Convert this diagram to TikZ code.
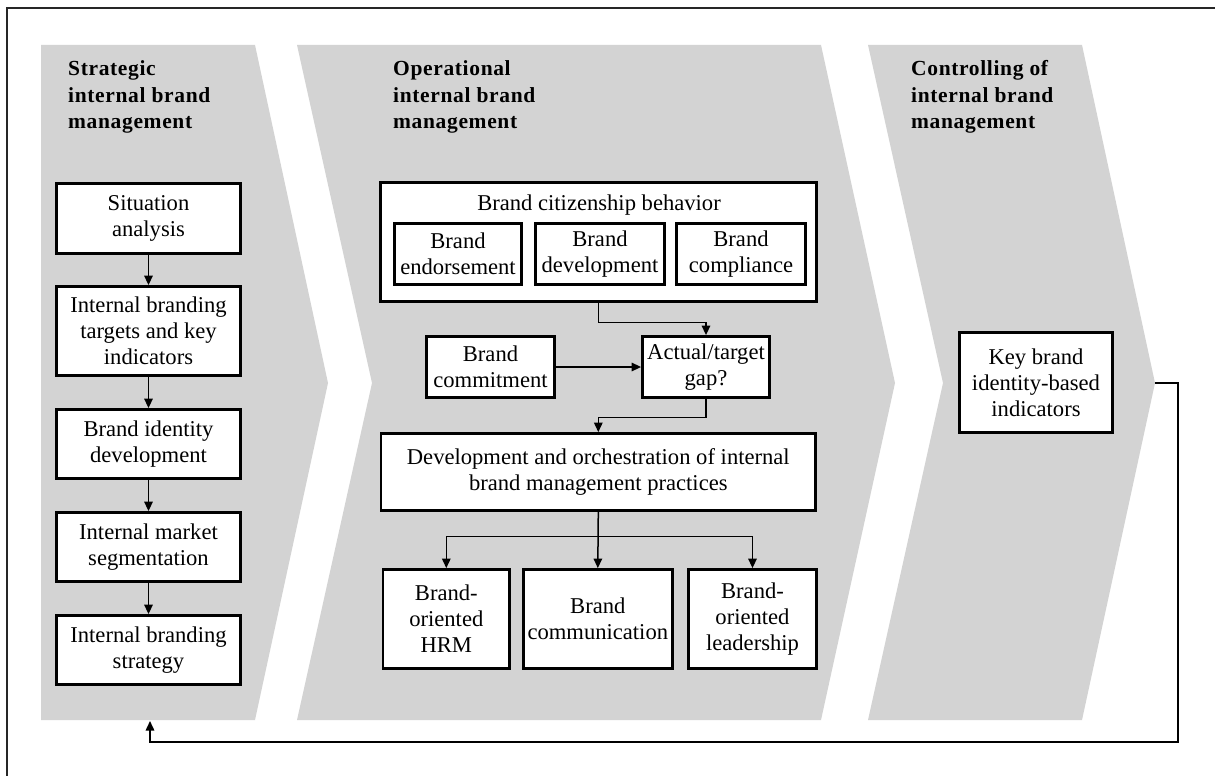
\documentclass[tikz,border=0pt]{standalone}
\usepackage{fontspec}
\setmainfont{Liberation Serif}
\newfontfamily\headfam{Liberation Serif}[LetterSpace=3]
\usetikzlibrary{arrows.meta}
\definecolor{panelgray}{RGB}{211,211,211}
\tikzset{
  panel/.style={fill=panelgray, draw=none},
  box/.style={draw=black, line width=2.8pt, fill=white, inner sep=0pt,
    align=center, font=\fontsize{22.6}{26}\selectfont},
  plainlabel/.style={inner sep=0pt, align=center, font=\fontsize{22.6}{26}\selectfont},
  head/.style={anchor=north west, inner sep=0pt, align=left,
    font=\headfam\bfseries\fontsize{21.5}{26.5}\selectfont},
  arr/.style={line width=1.5pt, -{Triangle[length=9.5pt,width=8.5pt]}},
  frame/.style={line width=1.8pt, draw=black!85},
}
\begin{document}
\begin{tikzpicture}[x=1pt,y=-1pt]
\useasboundingbox (0,0) rectangle (1215,776);

% outer frame (top and left edges)
\draw[frame] (7,776) -- (7,8) -- (1215,8);

% chevron panels
\fill[panel] (41,45) -- (255,45) -- (328,383) -- (255,720) -- (41,720) -- cycle;
\fill[panel] (297,45) -- (821,45) -- (895,383) -- (821,720) -- (297,720) -- (372,383) -- cycle;
\fill[panel] (868,45) -- (1082,45) -- (1155,383) -- (1082,720) -- (868,720) -- (943,383) -- cycle;
\coordinate (tip3) at (1155,383);
\coordinate (fbcorner) at (1178,742);
\coordinate (p1base) at (150,721);

% panel headings
\node[head] (h1) at (68,60.5) {Strategic\\internal brand\\management};
\node[head] (h2) at (393,60.5) {Operational\\internal brand\\management};
\node[head] (h3) at (911,60.5) {Controlling of\\internal brand\\management};

% strategic column
\node[box, minimum width=184pt, minimum height=70pt] (sit) at (148.5,218.5) {Situation\\analysis};
\node[box, minimum width=184pt, minimum height=89pt] (tgt) at (148.5,331) {Internal branding\\targets and key\\indicators};
\node[box, minimum width=184pt, minimum height=69pt] (ident) at (148.5,444) {Brand identity\\development};
\node[box, minimum width=184pt, minimum height=69pt] (seg) at (148.5,547) {Internal market\\segmentation};
\node[box, minimum width=184pt, minimum height=69pt] (strat) at (148.5,650) {Internal branding\\strategy};
\draw[arr] (sit) -- (tgt);
\draw[arr] (tgt) -- (ident);
\draw[arr] (ident) -- (seg);
\draw[arr] (seg) -- (strat);

% operational column
\node[box, minimum width=436pt, minimum height=119pt] (bcb) at (598.5,242) {};
\node[plainlabel, anchor=base] (bcbtitle) at (599,210.5) {Brand citizenship behavior};
\node[box, minimum width=127pt, minimum height=61pt] (endo) at (458,254) {Brand\\endorsement};
\node[box, minimum width=129pt, minimum height=61pt] (devl) at (600,254) {Brand\\development};
\node[box, minimum width=129pt, minimum height=61pt] (comp) at (741,254) {Brand\\compliance};

\node[box, minimum width=128pt, minimum height=61pt] (commit) at (490.5,367) {Brand\\commitment};
\node[box, minimum width=127pt, minimum height=61pt] (gap) at (706,367) {Actual/target\\gap?};

\node[box, minimum width=434.5pt, minimum height=77pt] (dev) at (598.3,472)
  {Development and orchestration of internal\\brand management practices};

\node[box, minimum width=126.5pt, minimum height=99pt] (hrm) at (446.3,619) {Brand-\\oriented\\HRM};
\node[box, minimum width=149pt, minimum height=99pt] (comm) at (597.8,619) {Brand\\communication};
\node[box, minimum width=128pt, minimum height=99pt] (lead) at (752.5,619) {Brand-\\oriented\\leadership};

\draw[arr] (bcb.south) -- ++(0,19.5) -| (gap.north);
\draw[arr] (commit) -- (gap);
\draw[arr] (gap.south) -- ++(0,18.5) -| (dev.north);
\draw[arr] (dev.south) -- ++(0,24.5) -| (hrm.north);
\draw[arr] (dev.south) -- ++(0,24.5) -| (lead.north);
\draw[arr] (dev.south) -- (comm.north);

% controlling column
\node[box, minimum width=153pt, minimum height=100pt] (key) at (1036,382.5) {Key brand\\identity-based\\indicators};

% feedback loop back to strategic planning
\draw[arr] (tip3) -| (fbcorner) -| (p1base);
\end{tikzpicture}
\end{document}
